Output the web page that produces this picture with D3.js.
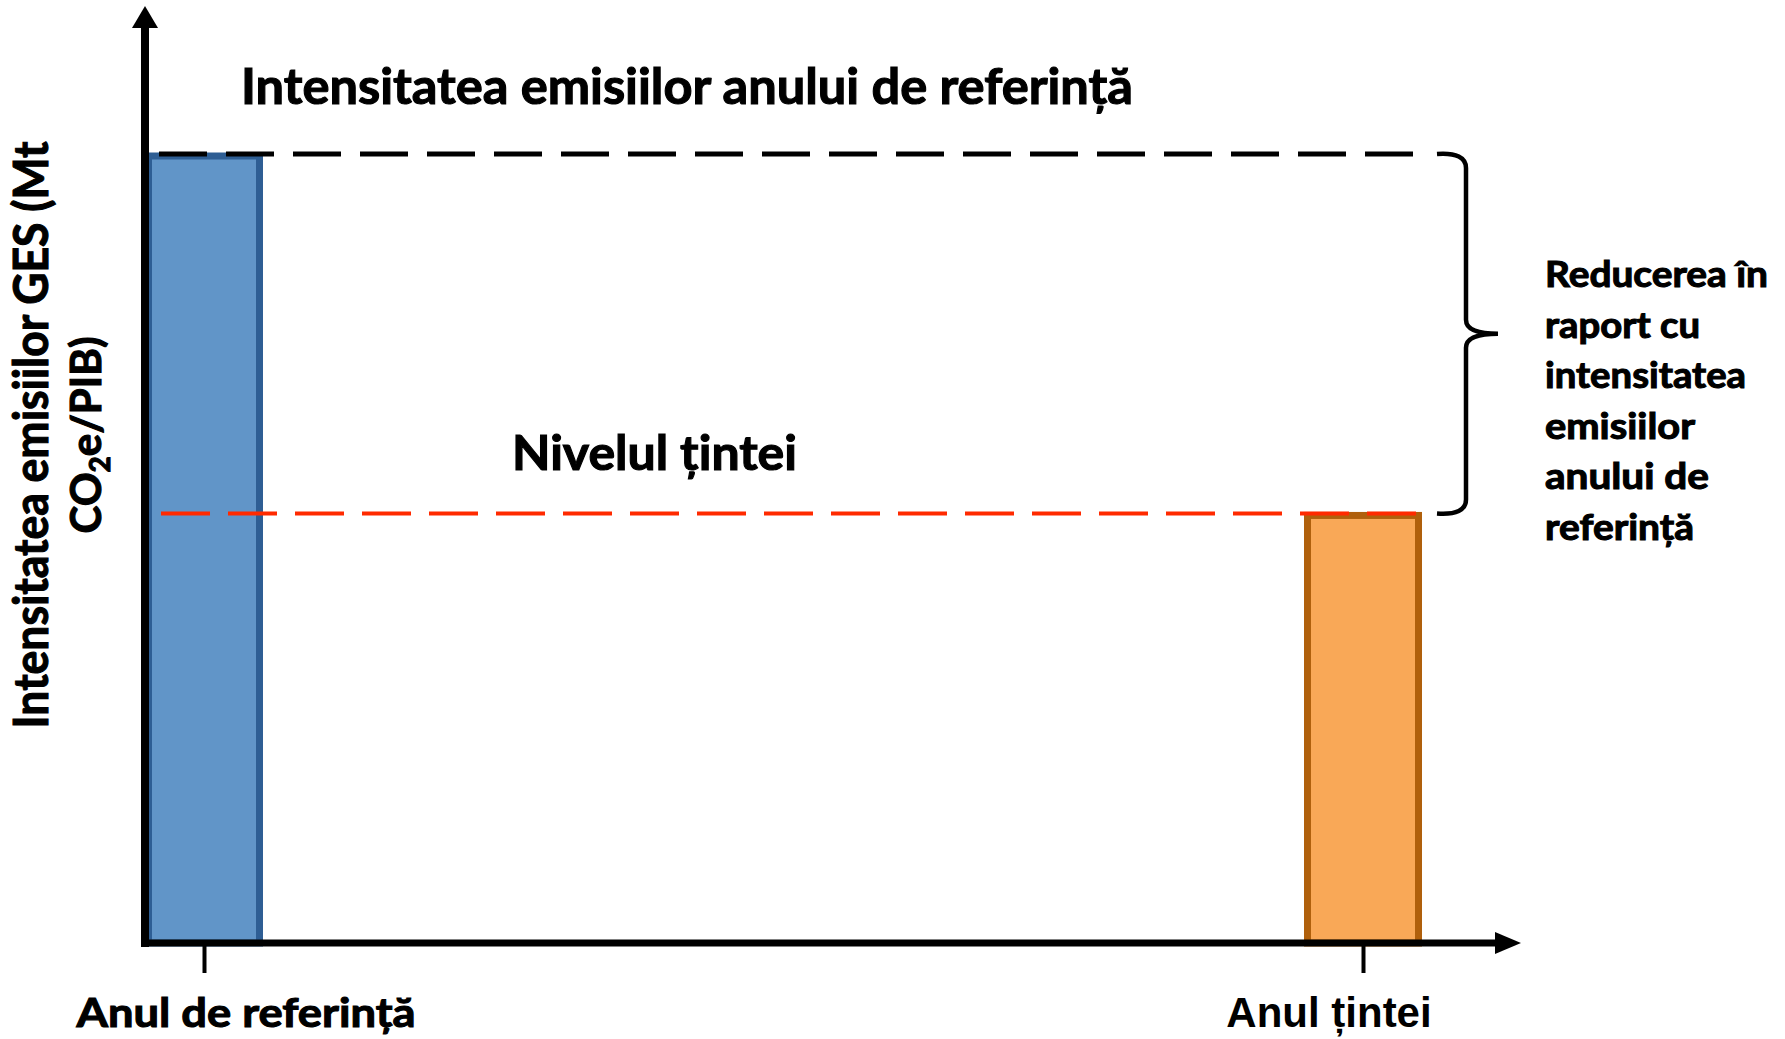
<!DOCTYPE html>
<html>
<head>
<meta charset="utf-8">
<script src="https://cdn.jsdelivr.net/npm/d3@7"></script>
<style>
  body { margin: 0; background: #fff; }
  svg { display: block; background: #fff; }
  .lbl { font-family: Lato, "Noto Sans", sans-serif; font-weight: 700; fill: #000; stroke: #000; stroke-width: 1.1px; }
  .arial { font-family: "Liberation Sans", Arial, sans-serif; font-weight: 700; fill: #000; }
</style>
</head>
<body>
<svg id="chart"></svg>
<script>
/* DATA */
var categories = ["Anul de referință", "Anul țintei"];
var intensity = [100, 54.5];
var chartTitle = "Intensitatea emisiilor anului de referință";
var targetTitle = "Nivelul țintei";
var yTitle = ["Intensitatea emisiilor GES (Mt", "CO", "2", "e/PIB)"];
var noteLines = ["Reducerea în", "raport cu", "intensitatea", "emisiilor", "anului de", "referință"];


/* SETUP */
var width = 1785;
var height = 1039;
var originX = 145;
var originY = 943;
var barWidth = 118;

var barFill = ["#6195c8", "#f9a857"];
var barStroke = ["#2e5e94", "#b0600c"];

// widths, used to fit the text
var fit = { title: 892, target: 285, note: [223, 155, 201, 150, 164, 149], yLine: 587 };
var labelShift = [42, -34];

var x = d3.scalePoint()
    .domain(categories)
    .range([204, 1363]);

var y = d3.scaleLinear()
    .domain([0, 100])
    .range([originY, 153]);

var data = categories.map(function(c, i) {
  return { cat: c, value: intensity[i], i: i };
});

var svg = d3.select("svg#chart")
    .attr("width", width)
    .attr("height", height);


/* BARS */
function drawBars(g) {
  g.selectAll("rect")
    .data(data)
    .enter()
    .append("rect")
      .attr("x", d => x(d.cat) - barWidth / 2 + 3.5)
      .attr("y", d => y(d.value) + 3)
      .attr("width", barWidth - 7)
      .attr("height", d => originY - y(d.value) - 3)
      .attr("fill", d => barFill[d.i])
      .attr("stroke", d => barStroke[d.i])
      .attr("stroke-width", 7);
}


/* REFERENCE LINES + BRACE */
function drawGuides(g) {
  let top = y(intensity[0]) + 1;
  let low = y(intensity[1]) + 1;

  g.append("line")
    .attr("x1", 159).attr("x2", 1415)
    .attr("y1", top).attr("y2", top)
    .attr("stroke", "#000")
    .attr("stroke-width", 5)
    .attr("stroke-dasharray", "48 19");

  let orangeRight = x(categories[1]) + barWidth / 2;
  g.append("line")
    .attr("x1", 161).attr("x2", orangeRight)
    .attr("y1", low).attr("y2", low)
    .attr("stroke", "#ff2a00")
    .attr("stroke-width", 4)
    .attr("stroke-dasharray", "49 18");

  // curly brace between the two levels
  let bx = 1466, hx = 1437, tip = 1498;
  let mid = (top + low) / 2;
  let path = d3.path();
  path.moveTo(hx, top);
  path.quadraticCurveTo(bx, top - 2, bx, top + 14);
  path.lineTo(bx, mid - 14);
  path.quadraticCurveTo(bx, mid, tip, mid);
  path.quadraticCurveTo(bx, mid, bx, mid + 14);
  path.lineTo(bx, low - 14);
  path.quadraticCurveTo(bx, low + 2, hx, low);

  g.append("path")
    .attr("d", path.toString())
    .attr("fill", "none")
    .attr("stroke", "#000")
    .attr("stroke-width", 4.5);
}


/* AXES */
function drawAxes(g) {
  g.append("line")
    .attr("x1", originX).attr("x2", originX)
    .attr("y1", originY + 4).attr("y2", 25)
    .attr("stroke", "#000")
    .attr("stroke-width", 8);

  g.append("path")
    .attr("d", "M" + originX + ",6 L" + (originX - 13) + ",28 L" + (originX + 13) + ",28 Z")
    .attr("fill", "#000");

  g.append("line")
    .attr("x1", originX - 4).attr("x2", 1500)
    .attr("y1", originY).attr("y2", originY)
    .attr("stroke", "#000")
    .attr("stroke-width", 7);

  g.append("path")
    .attr("d", "M1521," + originY + " L1495," + (originY - 11) + " L1495," + (originY + 11) + " Z")
    .attr("fill", "#000");

  // ticks + category labels
  let axis = d3.axisBottom(x)
    .tickSize(30)
    .tickSizeOuter(0)
    .tickFormat("");

  let ax = g.append("g")
    .attr("transform", translate(0, originY))
    .call(axis);
  ax.select(".domain").remove();
  ax.selectAll(".tick line")
    .attr("stroke", "#000")
    .attr("stroke-width", 4);

  g.selectAll("text.cat")
    .data(data)
    .enter()
    .append("text")
      .attr("class", d => d.i === 0 ? "cat lbl" : "cat arial")
      .attr("x", d => x(d.cat) + labelShift[d.i])
      .attr("y", 1027)
      .attr("text-anchor", "middle")
      .style("font-size", d => d.i === 0 ? "41px" : "42px")
      .attr("textLength", d => d.i === 0 ? 339 : null)
      .attr("lengthAdjust", "spacingAndGlyphs")
      .text(d => d.cat);
}


/* TEXTS */
function drawTexts(g) {
  g.append("text")
    .attr("class", "lbl")
    .attr("x", 241).attr("y", 104)
    .style("font-size", "49px")
    .attr("textLength", fit.title)
    .attr("lengthAdjust", "spacingAndGlyphs")
    .text(chartTitle);

  g.append("text")
    .attr("class", "lbl")
    .attr("x", 512).attr("y", 470)
    .style("font-size", "47px")
    .attr("textLength", fit.target)
    .attr("lengthAdjust", "spacingAndGlyphs")
    .text(targetTitle);

  g.selectAll("text.note")
    .data(noteLines)
    .enter()
    .append("text")
      .attr("class", "note lbl")
      .attr("x", 1545)
      .attr("y", (d, i) => 287 + i * 50.6)
      .style("font-size", "37px")
      .attr("textLength", (d, i) => fit.note[i])
      .attr("lengthAdjust", "spacingAndGlyphs")
      .text(d => d);

  // rotated y title
  let yt = g.append("g")
    .attr("transform", "rotate(-90)");

  yt.append("text")
    .attr("class", "lbl")
    .attr("x", -435).attr("y", 48)
    .attr("text-anchor", "middle")
    .style("font-size", "47px")
    .attr("textLength", fit.yLine)
    .attr("lengthAdjust", "spacingAndGlyphs")
    .text(yTitle[0]);

  let line2 = yt.append("text")
    .attr("class", "lbl")
    .attr("x", -435).attr("y", 101)
    .attr("text-anchor", "middle")
    .style("font-size", "42px");
  line2.append("tspan").text(yTitle[1]);
  line2.append("tspan")
    .attr("dy", 9)
    .style("font-size", "28px")
    .text(yTitle[2]);
  line2.append("tspan")
    .attr("dy", -9)
    .text(yTitle[3]);
}


drawBars(svg.append("g"));
drawGuides(svg.append("g"));
drawAxes(svg.append("g"));
drawTexts(svg.append("g"));


/* HELPER FUNCTION */
function translate(x, y) {
  return 'translate(' + String(x) + ',' + String(y) + ')';
}
</script>
</body>
</html>
